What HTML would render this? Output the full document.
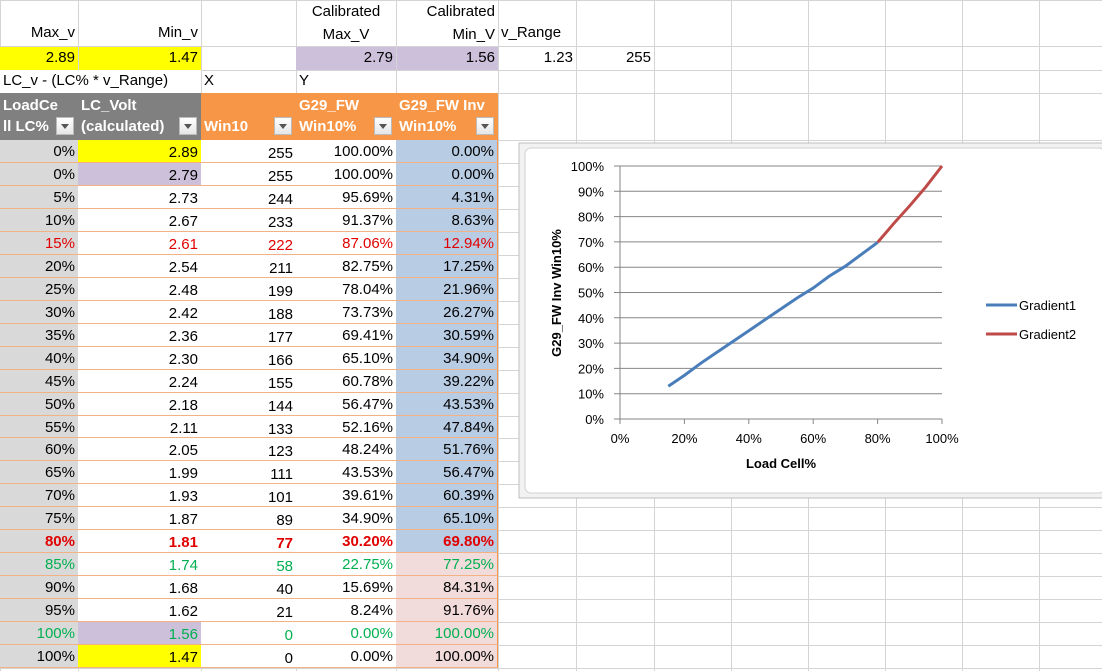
<!DOCTYPE html>
<html><head><meta charset="utf-8"><style>
body{margin:0;width:1102px;height:671px;overflow:hidden;background:#fff;font-family:"Liberation Sans",Arial,sans-serif;position:relative}
.c{position:absolute;box-sizing:border-box;font-size:15px;line-height:22px;padding:0 3px;white-space:nowrap;overflow:hidden;color:#000}
.r{text-align:right}
.g{position:absolute;background:#d4d4d4}
.h{position:absolute;color:#fff;font-weight:bold;font-size:15px;line-height:21px;box-sizing:border-box;padding:2px 3px;white-space:nowrap;overflow:hidden}
.fb{position:absolute;width:18px;height:18px;background:linear-gradient(#fff,#e6e6e6);border:1px solid #bbb;box-sizing:border-box}
.fb:after{content:"";position:absolute;left:4px;top:6px;border-left:4px solid transparent;border-right:4px solid transparent;border-top:5px solid #555}
</style></head><body>
<div id="grid"></div>
<div id="cells"></div>
<svg id="chart" width="1102" height="671" style="position:absolute;left:0;top:0"></svg>
<script>
const loadPct=["0%","0%","5%","10%","15%","20%","25%","30%","35%","40%","45%","50%","55%","60%","65%","70%","75%","80%","85%","90%","95%","100%","100%"];
const lcVolt=["2.89","2.79","2.73","2.67","2.61","2.54","2.48","2.42","2.36","2.30","2.24","2.18","2.11","2.05","1.99","1.93","1.87","1.81","1.74","1.68","1.62","1.56","1.47"];
const win10=["255","255","244","233","222","211","199","188","177","166","155","144","133","123","111","101","89","77","58","40","21","0","0"];
const fw=["100.00%","100.00%","95.69%","91.37%","87.06%","82.75%","78.04%","73.73%","69.41%","65.10%","60.78%","56.47%","52.16%","48.24%","43.53%","39.61%","34.90%","30.20%","22.75%","15.69%","8.24%","0.00%","0.00%"];
const fwInv=["0.00%","0.00%","4.31%","8.63%","12.94%","17.25%","21.96%","26.27%","30.59%","34.90%","39.22%","43.53%","47.84%","51.76%","56.47%","60.39%","65.10%","69.80%","77.25%","84.31%","91.76%","100.00%","100.00%"];
// chart data
const g1x=[15,20,25,30,35,40,45,50,55,60,65,70,75,80];
const g1y=[12.94,17.25,21.96,26.27,30.59,34.90,39.22,43.53,47.84,51.76,56.47,60.39,65.10,69.80];
const g2x=[80,85,90,95,100];
const g2y=[69.80,77.25,84.31,91.76,100];
const xTicks=[0,20,40,60,80,100];
const yTicks=[0,10,20,30,40,50,60,70,80,90,100];

const colX=[0,78,201,296,396,498,576,654,731,808,885,962,1039,1116];
const rowY=[0,46,70,93,140];
for(let i=1;i<=23;i++)rowY.push(Math.round(140+i*22.96));
const grid=document.getElementById('grid');
colX.forEach(x=>{const d=document.createElement('div');d.className='g';d.style.cssText=`left:${x}px;top:0;width:1px;height:671px`;

grid.appendChild(d);});
rowY.forEach(y=>{const d=document.createElement('div');d.className='g';d.style.cssText=`left:0;top:${y}px;width:1102px;height:1px`;

grid.appendChild(d);});
const cells=document.getElementById('cells');
function cell(x,y,w,h,txt,cls,bg,style,name){const d=document.createElement('div');d.className='c '+(cls||'');
d.style.cssText=`left:${x}px;top:${y}px;width:${w}px;height:${h}px;`+(bg?`background:${bg};`:'')+(style||'');d.textContent=txt;

cells.appendChild(d);return d;}
// top rows
cell(0,0,78,46,"Max_v","r","","padding-top:22px;",'max-v-label');
cell(78,0,123,46,"Min_v","r","","padding-top:22px;",'min-v-label');
cell(296,0,100,46,"Calibrated Max_V","","","white-space:normal;text-align:center;line-height:23px;",'calibrated-max-label');
cell(396,0,102,46,"Calibrated Min_V","r","","white-space:normal;line-height:23px;",'calibrated-min-label');
cell(498,0,78,46,"v_Range","","","padding-top:22px;",'v-range-label');
cell(0,47,78,23,"2.89","r","#ffff00","",'max-v-value');
cell(79,47,122,23,"1.47","r","#ffff00","",'min-v-value');
cell(296,47,100,23,"2.79","r","#ccc0da","",'calibrated-max-value');
cell(397,47,101,23,"1.56","r","#ccc0da","",'calibrated-min-value');
cell(498,47,78,23,"1.23","r","","",'v-range-value');
cell(576,47,78,23,"255","r","","",'max-value');
cell(0,70,201,23,"LC_v - (LC% * v_Range)","","#fff","",'formula-note');
cell(201,70,95,23,"X","","","",'x-label');
cell(296,70,100,23,"Y","","","",'y-label');
// headers
const hdr=[[0,78,"LoadCe<br>ll LC%","#808080"],[78,123,"LC_Volt<br>(calculated)","#808080"],[201,95,"<br>Win10","#f79646"],[296,100,"G29_FW<br>Win10%","#f79646"],[396,102,"G29_FW Inv<br>Win10%","#f79646"]];
hdr.forEach(h=>{const d=document.createElement('div');d.className='h';d.style.cssText=`left:${h[0]}px;top:93px;width:${h[1]}px;height:47px;background:${h[3]}`;d.innerHTML=h[2];

cells.appendChild(d);
const b=document.createElement('div');b.className='fb';b.style.cssText=`left:${h[0]+h[1]-22}px;top:117px`;

cells.appendChild(b);});
// data rows
for(let i=0;i<23;i++){
 const y=rowY[4+i],h=rowY[5+i]-y;
 let color='#000',fwgt='normal';
 if(i===4)color='#e00000';
 if(i===17){color='#e00000';fwgt='bold';}
 if(i===18||i===21)color='#00b050';
 const st=`color:${color};font-weight:${fwgt};border-bottom:1px solid #f4b183;padding-top:1px;`;
 const bBg=i===0||i===22?'#ffff00':(i===1||i===21?'#ccc0da':'#fff');
 const eBg=i<=17?'#b8cce4':'#f2dcdb';
 cell(0,y,78,h,loadPct[i],'r','#d9d9d9',st,'load-cell-pct');
 cell(78,y,123,h,lcVolt[i],'r',bBg,st+'padding-top:2px;','lc-volt');
 cell(201,y,95,h,win10[i],'r','#fff',st+'padding-top:3px;','win10');
 cell(296,y,100,h,fw[i],'r','#fff',st,'g29-fw');
 cell(396,y,102,h,fwInv[i],'r',eBg,st+'border-right:1px solid #f79646;','g29-fw-inv');
}
// chart
const svg=document.getElementById('chart');const NS='http://www.w3.org/2000/svg';
function el(t,a,name,txt){const e=document.createElementNS(NS,t);for(const k in a)e.setAttribute(k,a[k]);if(txt!==undefined)e.textContent=txt;

svg.appendChild(e);return e;}
const X0=620,X1=942,Y0=419,Y1=166;
const sx=v=>X0+(X1-X0)*v/100, sy=v=>Y0-(Y0-Y1)*v/100;
el('rect',{x:519,y:143,width:584,height:355,fill:'#f2f2f2',stroke:'#bfbfbf'},'chart-frame');
el('rect',{x:525,y:148,width:580,height:345,rx:6,fill:'#fff',stroke:'#d0d0d0'},'chart-area');
yTicks.forEach(t=>{el('line',{x1:X0-6,x2:X1,y1:sy(t),y2:sy(t),stroke:'#868686','stroke-width':1},'y-gridline');
el('text',{x:X0-16,y:sy(t)+5,'text-anchor':'end','font-size':13,fill:'#000','font-family':'Liberation Sans'},'y-tick-label',t+'%');});
el('line',{x1:X0,x2:X0,y1:Y1,y2:Y0,stroke:'#868686'},'y-axis');
xTicks.forEach(t=>{el('line',{x1:sx(t),x2:sx(t),y1:Y0,y2:Y0+5,stroke:'#868686'},'x-tick');
el('text',{x:sx(t),y:Y0+24,'text-anchor':'middle','font-size':13,fill:'#000','font-family':'Liberation Sans'},'x-tick-label',t+'%');});
el('polyline',{points:g1x.map((v,i)=>sx(v)+','+sy(g1y[i])).join(' '),fill:'none',stroke:'#4a7ebb','stroke-width':3},'gradient1-line');
el('polyline',{points:g2x.map((v,i)=>sx(v)+','+sy(g2y[i])).join(' '),fill:'none',stroke:'#be4b48','stroke-width':3},'gradient2-line');
el('text',{x:781,y:468,'text-anchor':'middle','font-size':13,'font-weight':'bold','font-family':'Liberation Sans'},'x-axis-title','Load Cell%');
el('text',{x:0,y:0,transform:'translate(561,293) rotate(-90)','text-anchor':'middle','font-size':13,'font-weight':'bold','font-family':'Liberation Sans'},'y-axis-title','G29_FW Inv Win10%');
el('line',{x1:986,x2:1017,y1:305,y2:305,stroke:'#4a7ebb','stroke-width':3},'legend-gradient1-swatch');
el('text',{x:1019,y:310,'font-size':13,'font-family':'Liberation Sans'},'legend-gradient1-label','Gradient1');
el('line',{x1:986,x2:1017,y1:334,y2:334,stroke:'#be4b48','stroke-width':3},'legend-gradient2-swatch');
el('text',{x:1019,y:339,'font-size':13,'font-family':'Liberation Sans'},'legend-gradient2-label','Gradient2');
</script>
</body></html>
